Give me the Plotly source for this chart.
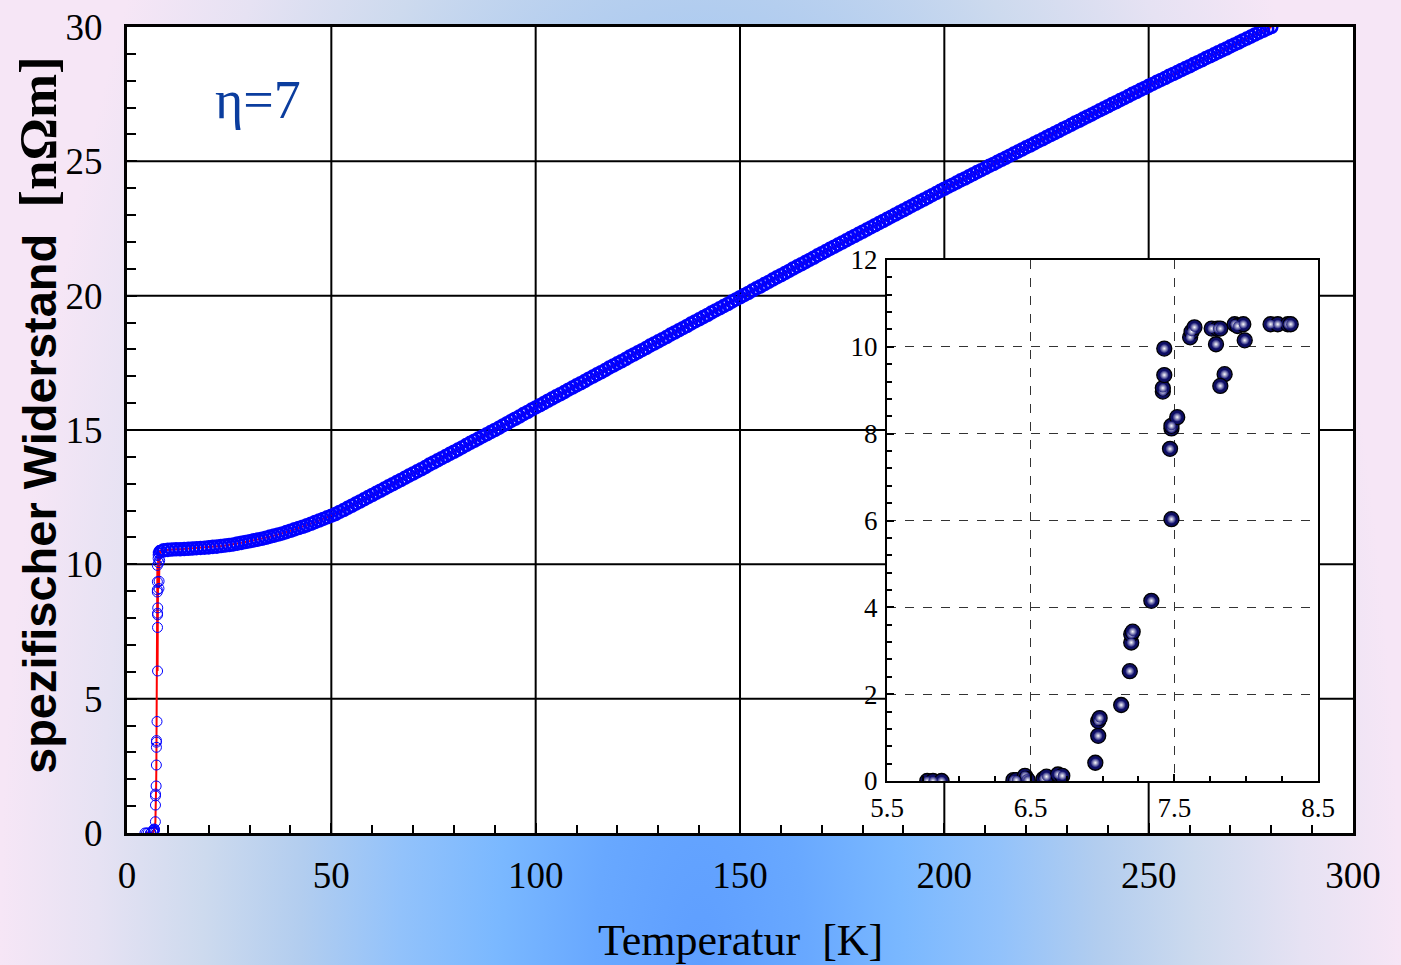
import base64
import plotly.graph_objects as go

# ---------------- data ----------------
# inset: transition region (T in K, rho in nOhm m)
inset_T = [5.78, 5.82, 5.88, 6.38, 6.40, 6.46, 6.47, 6.48, 6.59, 6.61, 6.69, 6.72,
           6.95, 6.97, 6.97, 6.98, 7.13, 7.19, 7.20, 7.20, 7.21, 7.34, 7.48, 7.47,
           7.48, 7.48, 7.52, 7.42, 7.42, 7.43, 7.43, 7.61, 7.62, 7.64, 7.76, 7.80,
           7.82, 7.79, 7.85, 7.82, 7.92, 7.94, 7.98, 7.99, 8.17, 8.22, 8.29, 8.31]
inset_rho = [0.00, 0.00, 0.00, 0.02, 0.02, 0.12, 0.05, 0.02, 0.05, 0.10, 0.15, 0.12,
             0.42, 1.04, 1.38, 1.45, 1.75, 2.53, 3.19, 3.38, 3.44, 4.15, 6.03, 7.65,
             8.12, 8.18, 8.38, 8.97, 9.05, 9.35, 9.96, 10.22, 10.35, 10.45, 10.42, 10.42,
             10.42, 10.06, 9.37, 9.10, 10.52, 10.48, 10.52, 10.15, 10.52, 10.52, 10.52, 10.52]

# extra low-temperature points of the main curve
low_T = [4.4, 4.8, 5.2]
low_rho = [0.0, 0.0, 0.0]

# normal-state part of the main curve, 9 K ... 280 K in 1 K steps
normal_T = list(range(9, 281))
normal_rho = [
    10.52, 10.54,
    10.55, 10.56, 10.56, 10.57, 10.58, 10.59, 10.60, 10.61, 10.62, 10.63,
    10.65, 10.66, 10.68, 10.70, 10.72, 10.74, 10.77, 10.80, 10.83, 10.86,
    10.89, 10.92, 10.95, 10.99, 11.03, 11.07, 11.11, 11.15, 11.20, 11.25,
    11.30, 11.35, 11.40, 11.45, 11.51, 11.57, 11.63, 11.69, 11.75, 11.81,
    11.87, 11.95, 12.02, 12.10, 12.18, 12.26, 12.34, 12.42, 12.50, 12.58,
    12.66, 12.74, 12.82, 12.90, 12.98, 13.06, 13.14, 13.22, 13.30, 13.38,
    13.46, 13.54, 13.62, 13.71, 13.79, 13.87, 13.95, 14.03, 14.11, 14.19,
    14.27, 14.35, 14.44, 14.52, 14.60, 14.68, 14.76, 14.84, 14.92, 15.00,
    15.08, 15.17, 15.25, 15.34, 15.42, 15.50, 15.59, 15.67, 15.76, 15.84,
    15.92, 16.00, 16.09, 16.17, 16.25, 16.33, 16.41, 16.50, 16.58, 16.66,
    16.74, 16.82, 16.91, 16.99, 17.07, 17.15, 17.23, 17.32, 17.40, 17.48,
    17.56, 17.64, 17.73, 17.81, 17.89, 17.97, 18.05, 18.14, 18.22, 18.30,
    18.38, 18.46, 18.55, 18.63, 18.71, 18.79, 18.87, 18.96, 19.04, 19.12,
    19.20, 19.28, 19.37, 19.45, 19.53, 19.61, 19.69, 19.78, 19.86, 19.94,
    20.02, 20.10, 20.19, 20.27, 20.35, 20.43, 20.51, 20.60, 20.68, 20.76,
    20.84, 20.92, 21.01, 21.09, 21.17, 21.25, 21.33, 21.41, 21.50, 21.58,
    21.66, 21.74, 21.82, 21.90, 21.98, 22.06, 22.14, 22.22, 22.30, 22.38,
    22.46, 22.54, 22.62, 22.70, 22.78, 22.86, 22.94, 23.02, 23.10, 23.18,
    23.26, 23.34, 23.42, 23.50, 23.58, 23.66, 23.74, 23.82, 23.90, 23.98,
    24.06, 24.13, 24.21, 24.29, 24.36, 24.44, 24.52, 24.60, 24.67, 24.75,
    24.83, 24.90, 24.98, 25.06, 25.13, 25.21, 25.29, 25.36, 25.44, 25.52,
    25.59, 25.67, 25.75, 25.82, 25.90, 25.98, 26.05, 26.13, 26.21, 26.28,
    26.36, 26.44, 26.51, 26.59, 26.67, 26.74, 26.82, 26.90, 26.97, 27.05,
    27.13, 27.20, 27.28, 27.35, 27.43, 27.51, 27.58, 27.66, 27.73, 27.81,
    27.88, 27.96, 28.03, 28.10, 28.18, 28.25, 28.32, 28.40, 28.47, 28.54,
    28.62, 28.69, 28.76, 28.84, 28.91, 28.98, 29.06, 29.13, 29.20, 29.28,
    29.35, 29.42, 29.50, 29.57, 29.64, 29.72, 29.79, 29.86, 29.93, 30.00,
]

main_x_ticks = [0, 50, 100, 150, 200, 250, 300]
main_y_ticks = [0, 5, 10, 15, 20, 25, 30]
inset_x_ticks = [5.5, 6.5, 7.5, 8.5]
inset_y_ticks = [0, 2, 4, 6, 8, 10, 12]

# ---------------- build main series ----------------
pairs = sorted(zip(low_T + inset_T, low_rho + inset_rho))
trans_T = [p[0] for p in pairs]
trans_rho = [p[1] for p in pairs]

# ---------------- layout geometry ----------------
W, H = 1401, 965
ML, MR, MT, MB = 127, 48, 27, 132
PW, PH = W - ML - MR, H - MT - MB

SERIF = "Liberation Serif, Times New Roman, serif"
SANS = "Liberation Sans, Arial, sans-serif"

# background gradient as an SVG image
svg = f'''<svg xmlns="http://www.w3.org/2000/svg" width="{W}" height="{H}" viewBox="0 0 {W} {H}" preserveAspectRatio="none">
<defs><radialGradient id="g" gradientUnits="userSpaceOnUse" cx="700" cy="965" r="700"
 gradientTransform="translate(700 965) scale(1 2.4) translate(-700 -965)">
<stop offset="0" stop-color="#5e9eff"/>
<stop offset="0.15" stop-color="#68a8ff"/>
<stop offset="0.29" stop-color="#7ab8ff"/>
<stop offset="0.43" stop-color="#92c2fb"/>
<stop offset="0.57" stop-color="#b2cdef"/>
<stop offset="0.71" stop-color="#cddaee"/>
<stop offset="0.86" stop-color="#e6e2f3"/>
<stop offset="1" stop-color="#f6e6f6"/>
</radialGradient></defs>
<rect x="0" y="0" width="{W}" height="{H}" fill="url(#g)"/></svg>'''
svg_uri = "data:image/svg+xml;base64," + base64.b64encode(svg.encode()).decode()

fig = go.Figure()

# red connecting line through all points
fig.add_trace(go.Scatter(
    x=trans_T + normal_T, y=trans_rho + normal_rho, mode="lines",
    line=dict(color="#ff0000", width=2),
    xaxis="x", yaxis="y", showlegend=False, hoverinfo="skip",
))
# open circles, transition part
fig.add_trace(go.Scatter(
    x=trans_T, y=trans_rho, mode="markers",
    marker=dict(symbol="circle-open", size=10, color="#0000ff", line=dict(width=1)),
    xaxis="x", yaxis="y", showlegend=False, hoverinfo="skip",
))
# open circles, normal-state part (dense band)
fig.add_trace(go.Scatter(
    x=normal_T, y=normal_rho, mode="markers",
    marker=dict(symbol="circle-open", size=12, color="#0000ff", line=dict(width=2.6)),
    xaxis="x", yaxis="y", showlegend=False, hoverinfo="skip",
))

# inset: dark navy spheres with a light centre
fig.add_trace(go.Scatter(
    x=inset_T, y=inset_rho, mode="markers",
    marker=dict(symbol="circle", size=15, color="#0e0e62",
                line=dict(color="#000000", width=1.3)),
    xaxis="x2", yaxis="y2", showlegend=False, hoverinfo="skip",
))
fig.add_trace(go.Scatter(
    x=inset_T, y=inset_rho, mode="markers",
    marker=dict(symbol="circle", size=9, color="#1a1a78",
                gradient=dict(type="radial", color="#ffffff"),
                line=dict(width=0)),
    xaxis="x2", yaxis="y2", showlegend=False, hoverinfo="skip",
))

# inset domain (paper)
ix0, ix1 = (887 - ML) / PW, (1318 - ML) / PW
iy0, iy1 = (MT + PH - 781) / PH, (MT + PH - 260) / PH

shapes = [dict(type="rect", xref="paper", yref="paper", x0=0, x1=1, y0=0, y1=1,
               fillcolor="white", line=dict(width=0), layer="below")]
for xv in main_x_ticks[1:-1]:
    shapes.append(dict(type="line", xref="x", yref="paper", x0=xv, x1=xv, y0=0, y1=1,
                       line=dict(color="black", width=2), layer="below"))
for yv in main_y_ticks[1:-1]:
    shapes.append(dict(type="line", xref="paper", yref="y", x0=0, x1=1, y0=yv, y1=yv,
                       line=dict(color="black", width=2), layer="below"))
shapes.append(dict(type="rect", xref="paper", yref="paper", x0=ix0, x1=ix1, y0=iy0, y1=iy1,
                   fillcolor="white", line=dict(width=0), layer="below"))

annotations = [
    dict(text="Temperatur\u00a0\u00a0[K]", xref="paper", yref="paper",
         x=(741 - ML) / PW, y=(MT + PH - 940) / PH, xanchor="center", yanchor="middle",
         showarrow=False, font=dict(family=SERIF, size=44, color="black")),
    dict(text='<b>spezifischer Widerstand\u00a0\u00a0<span style="font-family:Liberation Serif;font-size:53px">[nΩm]</span></b>',
         xref="paper", yref="paper", textangle=-90,
         x=(38 - ML) / PW, y=(MT + PH - 415) / PH, xanchor="center", yanchor="middle",
         showarrow=False, font=dict(family=SANS, size=47, color="black")),
    dict(text="η=7", xref="x", yref="y", x=32, y=27.3, xanchor="center", yanchor="middle",
         showarrow=False, font=dict(family=SERIF, size=54, color="#0b3d9e")),
]

fig.update_layout(
    width=W, height=H,
    margin=dict(l=ML, r=MR, t=MT, b=MB, pad=0, autoexpand=False),
    paper_bgcolor="#c8d6ee", plot_bgcolor="rgba(0,0,0,0)",
    images=[dict(source=svg_uri, xref="paper", yref="paper",
                 x=-ML / PW, y=1 + MT / PH, sizex=W / PW, sizey=H / PH,
                 xanchor="left", yanchor="top", sizing="stretch", layer="below")],
    shapes=shapes, annotations=annotations,
    xaxis=dict(range=[0, 300], tickvals=main_x_ticks, showgrid=False, zeroline=False,
               automargin=False,
               showline=True, mirror=True, linecolor="black", linewidth=3,
               ticks="inside", ticklen=10, tickwidth=2, tickcolor="black",
               minor=dict(dtick=10, ticks="inside", ticklen=8, tickwidth=2, tickcolor="black"),
               tickfont=dict(family=SERIF, size=37, color="black"), ticklabelstandoff=8),
    yaxis=dict(range=[0, 30], tickvals=main_y_ticks, showgrid=False, zeroline=False,
               automargin=False,
               showline=True, mirror=True, linecolor="black", linewidth=3,
               ticks="inside", ticklen=10, tickwidth=2, tickcolor="black",
               minor=dict(dtick=1, ticks="inside", ticklen=9, tickwidth=2, tickcolor="black"),
               tickfont=dict(family=SERIF, size=37, color="black"), ticklabelstandoff=14),
    xaxis2=dict(domain=[ix0, ix1], anchor="y2", range=[5.5, 8.5], tickvals=inset_x_ticks,
                ticktext=[f"{v:.1f}" for v in inset_x_ticks], automargin=False,
                showgrid=True, gridcolor="#333333", griddash="dash", gridwidth=1,
                zeroline=False, showline=True, mirror=True, linecolor="black", linewidth=2,
                ticks="inside", ticklen=7, tickwidth=1.5, tickcolor="black",
                minor=dict(dtick=0.25, tick0=5.5, ticks="inside", ticklen=5, tickwidth=1.5,
                           tickcolor="black", showgrid=False),
                tickfont=dict(family=SERIF, size=27, color="black"), ticklabelstandoff=2),
    yaxis2=dict(domain=[iy0, iy1], anchor="x2", range=[0, 12], tickvals=inset_y_ticks,
                automargin=False,
                showgrid=True, gridcolor="#333333", griddash="dash", gridwidth=1,
                zeroline=False, showline=True, mirror=True, linecolor="black", linewidth=2,
                ticks="inside", ticklen=7, tickwidth=1.5, tickcolor="black",
                minor=dict(dtick=0.4, tick0=0, ticks="inside", ticklen=5, tickwidth=1.5,
                           tickcolor="black", showgrid=False),
                tickfont=dict(family=SERIF, size=27, color="black"), ticklabelstandoff=2),
)

fig.write_html(
    "out.html",
    config={"displayModeBar": False},
    post_script=(
        "document.documentElement.style.margin='0px';"
        "document.body.style.margin='0px';document.body.style.padding='0px';"
        "document.body.style.overflow='hidden';"
        "var d=document.getElementById('{plot_id}');"
        "d.style.position='absolute';d.style.left='0px';d.style.top='0px';"
    ),
)
